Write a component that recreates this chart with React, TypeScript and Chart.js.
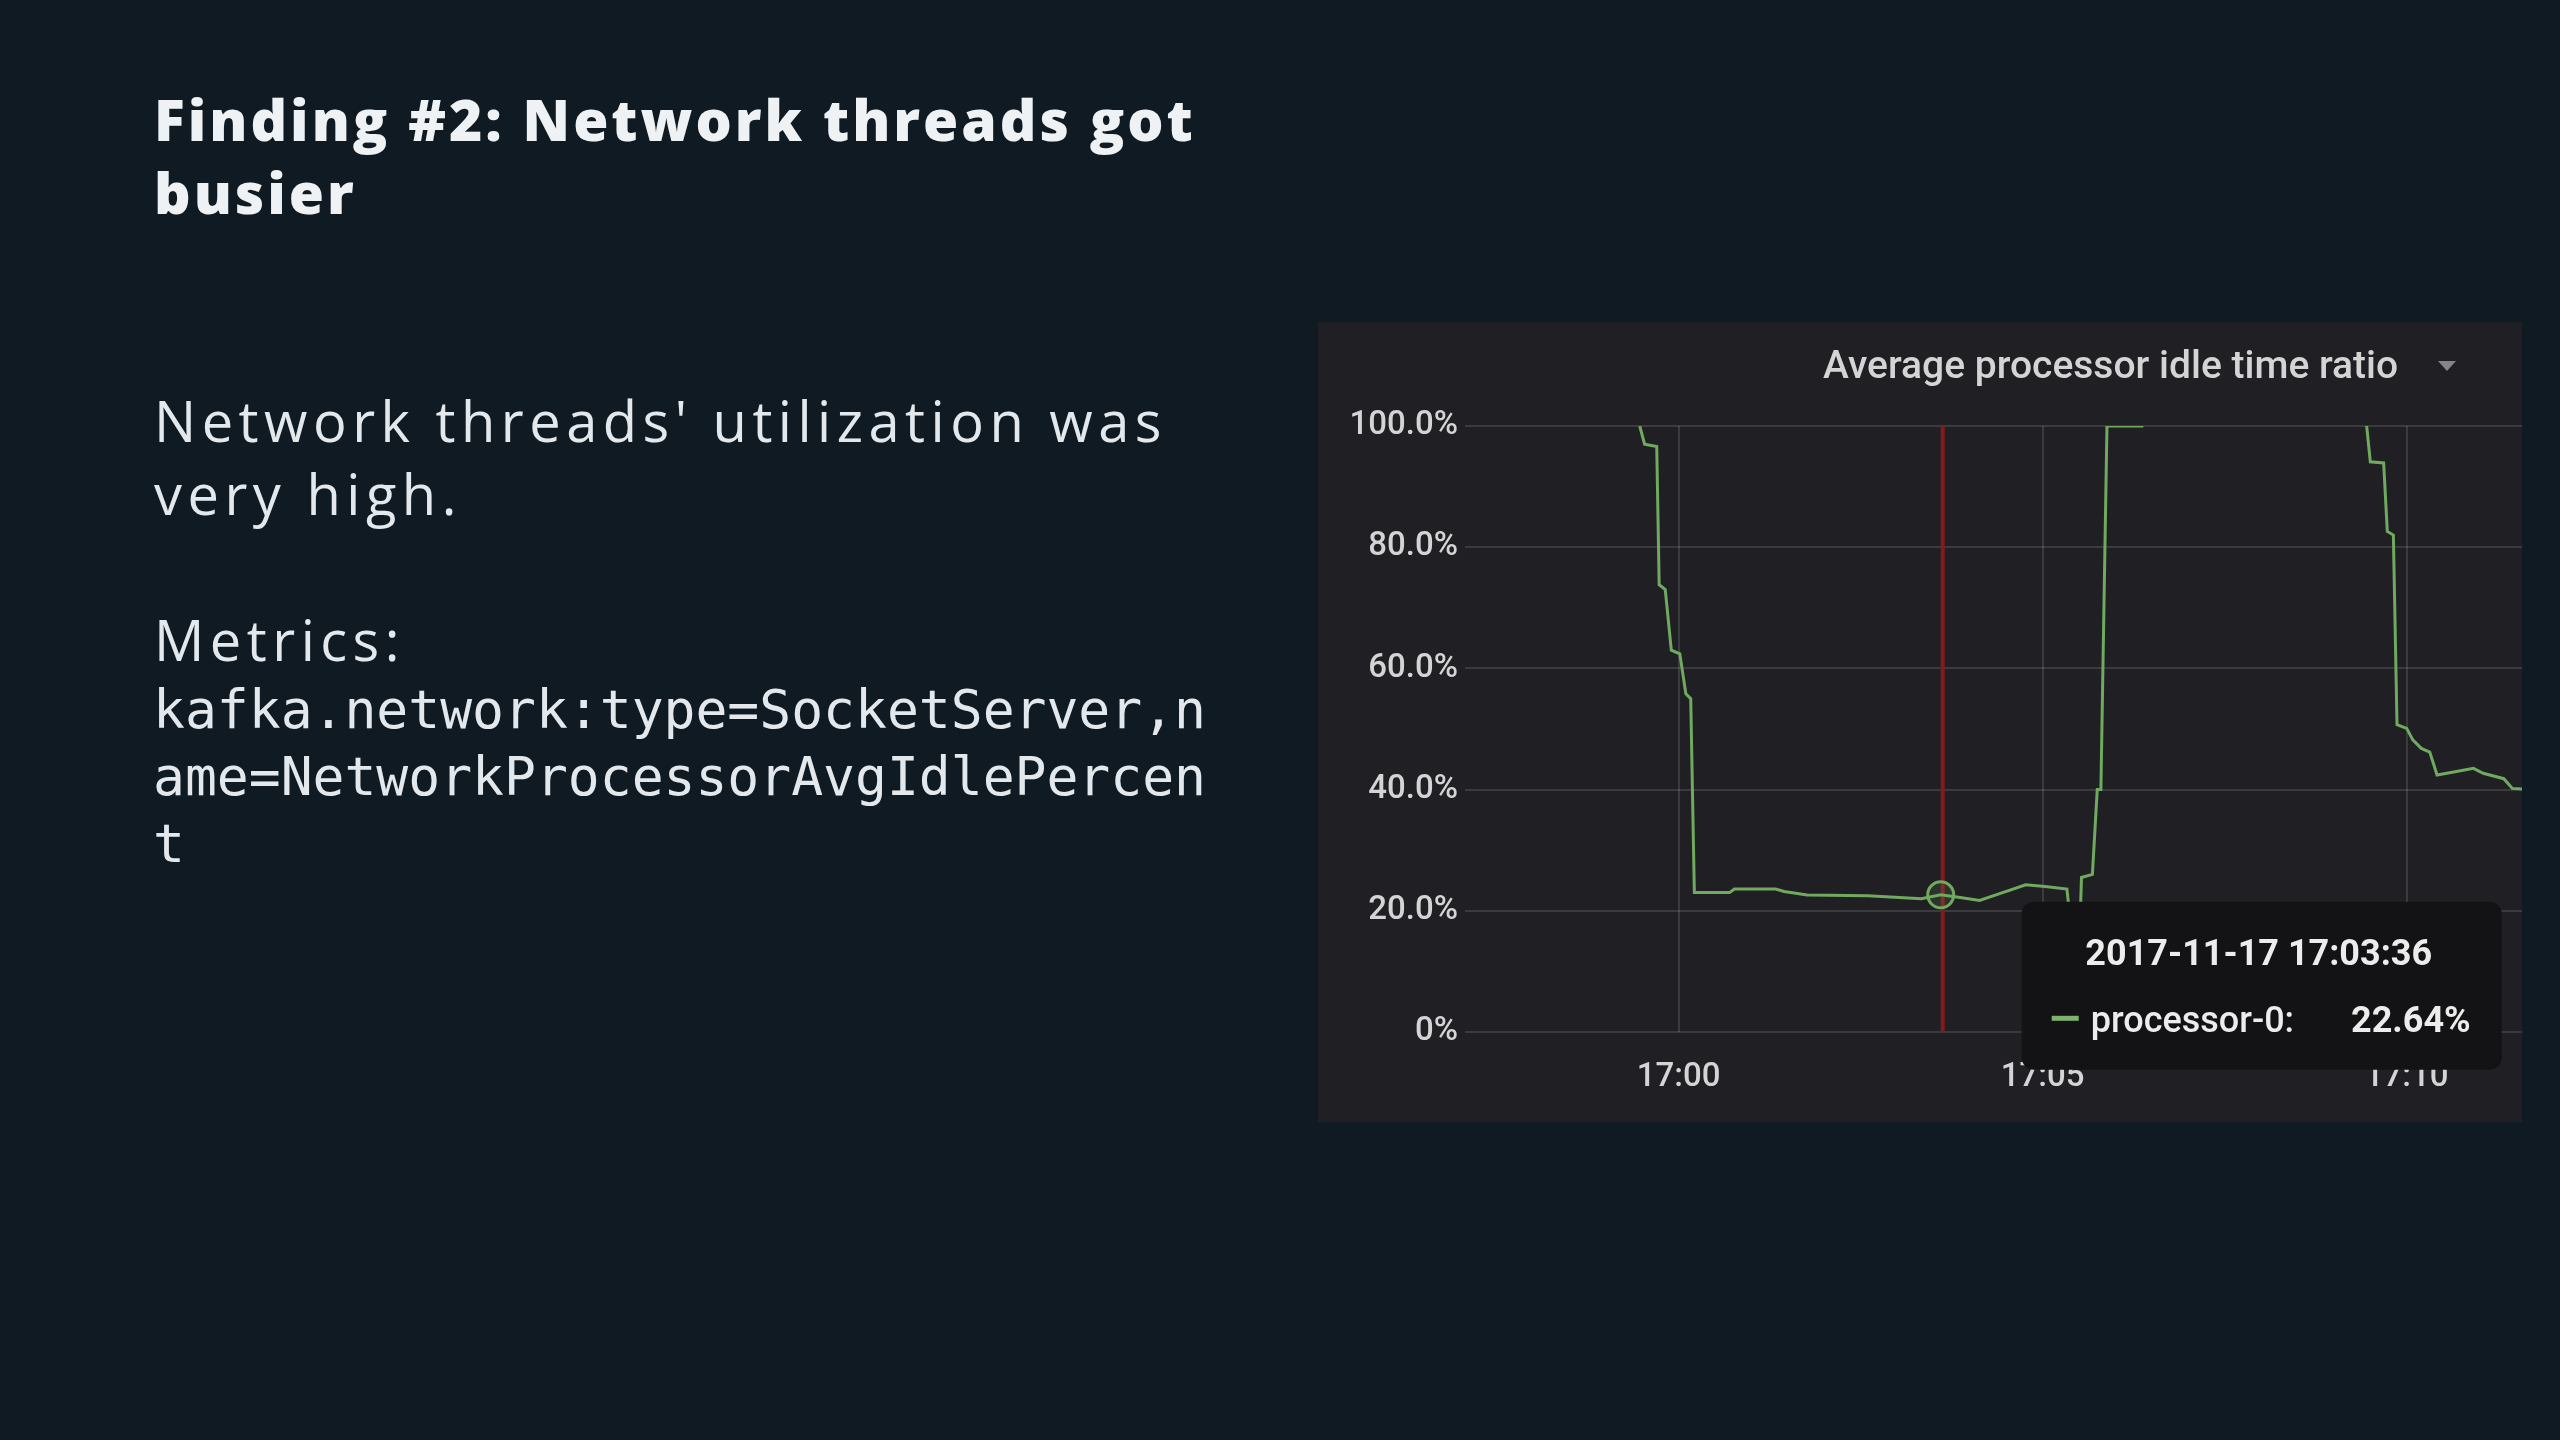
import React, { useEffect, useRef } from "react";
import { Chart, registerables } from "chart.js";

Chart.register(...registerables);

// ---- data ----
const TIMES = [
  "16:59:28", "16:59:32", "16:59:42", "16:59:44", "16:59:49", "16:59:54", "17:00:01", "17:00:06", "17:00:10", "17:00:13",
  "17:00:42", "17:00:46", "17:01:20", "17:01:27", "17:01:46", "17:02:36", "17:03:20", "17:03:36", "17:03:52", "17:04:08",
  "17:04:27", "17:04:46", "17:05:02", "17:05:20", "17:05:23", "17:05:31", "17:05:32", "17:05:41", "17:05:45", "17:05:48",
  "17:05:53", "17:06:23", "17:08:00", "17:09:27", "17:09:30", "17:09:41", "17:09:44", "17:09:49", "17:09:52", "17:10:00",
  "17:10:05", "17:10:12", "17:10:19", "17:10:25", "17:10:41", "17:10:55", "17:11:03", "17:11:20", "17:11:27", "17:11:35",
];
const VALUES: (number | null)[] = [
  100, 97, 96.6, 73.8, 73, 63, 62.4, 55.8, 55, 23,
  23, 23.6, 23.6, 23.2, 22.6, 22.5, 22.0, 22.64, 22.2, 21.7,
  23, 24.3, 24, 23.6, 18, 19, 25.5, 26, 40, 40,
  100, 100, null, 100, 94.1, 93.9, 82.6, 82, 50.7, 50.1,
  48.2, 46.8, 46.2, 42.4, 43, 43.5, 42.7, 41.8, 40.2, 40.1,
];
const SERIES_NAME = "processor-0";
const PANEL_TITLE = "Average processor idle time ratio";
const X_RANGE = ["16:57:04", "17:11:35"];
const X_TICK_TIMES = ["17:00", "17:05", "17:10"];
const Y_TICKS = [0, 20, 40, 60, 80, 100];
const Y_TICK_LABELS = ["0%", "20.0%", "40.0%", "60.0%", "80.0%", "100.0%"];
const HOVER_DATE = "2017-11-17";
const HOVER_TIME = "17:03:36";
const HOVER_VALUE_LABEL = "22.64%";

const SLIDE_TITLE = ["Finding #2: Network threads got", "busier"];
const BODY_LINES = ["Network threads' utilization was", "very high.", "", "Metrics:"];
const MONO_LINES = ["kafka.network:type=SocketServer,n", "ame=NetworkProcessorAvgIdlePercen", "t"];

// ---- styles ----
const SLIDE_BG = "#101a22";
const PANEL_BG = "#201f24";
const GREEN = "#70a960";
const GRID = "rgba(255,255,255,0.12)";
const TEXT = "#d4d4d4";

const toSec = (t: string) => {
  const p = t.split(":").map(Number);
  return (p[0] - 17) * 3600 + p[1] * 60 + (p[2] || 0);
};

function GrafanaChart() {
  const ref = useRef<HTMLCanvasElement | null>(null);
  useEffect(() => {
    if (!ref.current) return;
    const hoverIdx = TIMES.indexOf(HOVER_TIME);
    const points = TIMES.map((t, i) => ({ x: toSec(t), y: VALUES[i] }));
    const tickSecs = X_TICK_TIMES.map(toSec);

    const overlay = {
      id: "grafanaOverlay",
      beforeDatasetsDraw(chart: any) {
        const { ctx, chartArea, scales } = chart;
        const x = scales.x.getPixelForValue(toSec(HOVER_TIME)) + 2;
        ctx.save();
        ctx.strokeStyle = "#821b1b";
        ctx.lineWidth = 4;
        ctx.beginPath();
        ctx.moveTo(x, chartArea.top);
        ctx.lineTo(x, chartArea.bottom);
        ctx.stroke();
        ctx.restore();
      },
      afterDraw(chart: any) {
        const { ctx } = chart;
        ctx.save();
        // panel title
        ctx.fillStyle = TEXT;
        ctx.font = "500 39px Roboto";
        ctx.textAlign = "left";
        ctx.textBaseline = "alphabetic";
        ctx.fillText(PANEL_TITLE, 505, 56);
        // caret
        ctx.fillStyle = "#858585";
        ctx.beginPath();
        ctx.moveTo(1120, 39);
        ctx.lineTo(1138, 39);
        ctx.lineTo(1129, 49);
        ctx.closePath();
        ctx.fill();

        // tooltip
        const pt = chart.getDatasetMeta(0).data[hoverIdx];
        const bx = pt.x + 81;
        const by = pt.y + 7;
        const bw = 480;
        const bh = 168;
        ctx.fillStyle = "#131315";
        ctx.beginPath();
        (ctx as any).roundRect(bx, by, bw, bh, 12);
        ctx.fill();
        ctx.fillStyle = "#ececec";
        ctx.font = "bold 36px Roboto";
        ctx.textAlign = "center";
        ctx.fillText(`${HOVER_DATE} ${HOVER_TIME}`, bx + bw / 2 - 3, by + 63);
        ctx.fillStyle = "#7eb26d";
        ctx.fillRect(bx + 30, by + 114, 27, 5);
        ctx.fillStyle = "#ececec";
        ctx.font = "500 36px Roboto";
        ctx.textAlign = "left";
        ctx.fillText(`${SERIES_NAME}:`, bx + 69, by + 130);
        ctx.textAlign = "right";
        ctx.font = "bold 36px Roboto";
        ctx.fillText(HOVER_VALUE_LABEL, bx + 449, by + 130);
        ctx.restore();
      },
    };

    const chart = new Chart(ref.current, {
      type: "line",
      data: {
        datasets: [
          {
            label: SERIES_NAME,
            data: points as any,
            borderColor: GREEN,
            borderWidth: 3,
            fill: false,
            tension: 0,
            spanGaps: false,
            pointRadius: (c: any) => (c.dataIndex === hoverIdx ? 13 : 0),
            pointBorderWidth: 3,
            pointBorderColor: GREEN,
            pointBackgroundColor: "rgba(114,171,98,0.15)",
            pointHoverRadius: 0,
          },
        ],
      },
      options: {
        animation: false,
        responsive: false,
        maintainAspectRatio: false,
        devicePixelRatio: 1,
        events: [],
        layout: { padding: { top: 104, right: 0, left: 0, bottom: 0 } },
        plugins: { legend: { display: false }, tooltip: { enabled: false }, title: { display: false } },
        scales: {
          x: {
            type: "linear",
            min: toSec(X_RANGE[0]),
            max: toSec(X_RANGE[1]),
            afterBuildTicks: (s: any) => {
              s.ticks = tickSecs.map((v) => ({ value: v }));
            },
            afterFit: (s: any) => {
              s.height = 90;
            },
            ticks: {
              autoSkip: false,
              maxRotation: 0,
              padding: 26,
              color: TEXT,
              font: { family: "Roboto", size: 33, weight: "500" },
              callback: (v: any) => {
                const i = tickSecs.indexOf(Number(v));
                return i >= 0 ? X_TICK_TIMES[i] : "";
              },
            },
            grid: { color: GRID, lineWidth: 2, drawTicks: false },
            border: { display: false },
          },
          y: {
            min: 0,
            max: 100,
            afterBuildTicks: (s: any) => {
              s.ticks = Y_TICKS.map((v) => ({ value: v }));
            },
            afterFit: (s: any) => {
              s.width = 147;
            },
            ticks: {
              padding: 7,
              color: TEXT,
              font: { family: "Roboto", size: 33, weight: "500" },
              callback: (v: any) => {
                const i = Y_TICKS.indexOf(Number(v));
                return i >= 0 ? Y_TICK_LABELS[i] : "";
              },
            },
            grid: { color: GRID, lineWidth: 2, drawTicks: false },
            border: { display: false },
          },
        },
      } as any,
      plugins: [overlay as any],
    });
    return () => chart.destroy();
  }, []);
  return <canvas ref={ref} width={1204} height={800} style={{ width: 1204, height: 800, display: "block" }} />;
}

export default function App() {
  return (
    <div style={{ position: "fixed", inset: 0, background: SLIDE_BG, overflow: "hidden" }}>
      <div
        style={{
          position: "absolute",
          left: 154,
          top: 83,
          fontFamily: "'Open Sans'",
          fontWeight: 800,
          fontSize: 57,
          lineHeight: "73px",
          letterSpacing: "3px",
          color: "#eef2f4",
          whiteSpace: "nowrap",
        }}
      >
        {SLIDE_TITLE.map((l, i) => (
          <div key={i}>{l}</div>
        ))}
      </div>
      <div
        style={{
          position: "absolute",
          left: 154,
          top: 384,
          fontFamily: "'Open Sans'",
          fontWeight: 400,
          fontSize: 56,
          lineHeight: "73px",
          letterSpacing: "5.5px",
          color: "#e2e8ec",
          whiteSpace: "pre",
        }}
      >
        {BODY_LINES.map((l, i) => (
          <div key={i} style={{ height: 73 }}>{l}</div>
        ))}
      </div>
      <div
        style={{
          position: "absolute",
          left: 153,
          top: 676,
          fontFamily: "'DejaVu Sans Mono'",
          fontSize: 53,
          lineHeight: "67px",
          color: "#e2e8ec",
          whiteSpace: "pre",
        }}
      >
        {MONO_LINES.map((l, i) => (
          <div key={i}>{l}</div>
        ))}
      </div>
      <div style={{ position: "absolute", left: 1318, top: 322, width: 1204, height: 800, background: PANEL_BG }}>
        <GrafanaChart />
      </div>
    </div>
  );
}
